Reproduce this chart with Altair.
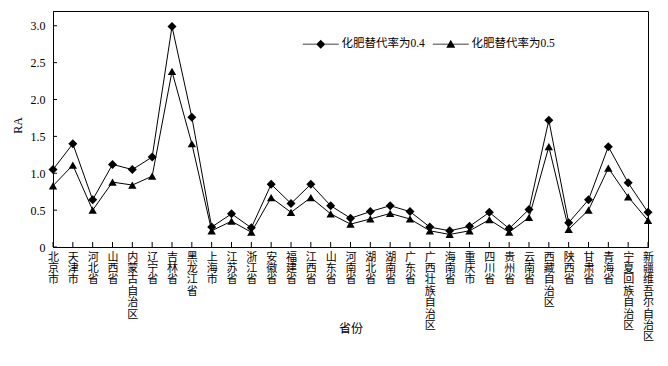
import altair as alt
import pandas as pd

provinces = ["北京市", "天津市", "河北省", "山西省", "内蒙古自治区", "辽宁省", "吉林省", "黑龙江省",
             "上海市", "江苏省", "浙江省", "安徽省", "福建省", "江西省", "山东省", "河南省",
             "湖北省", "湖南省", "广东省", "广西壮族自治区", "海南省", "重庆市", "四川省", "贵州省",
             "云南省", "西藏自治区", "陕西省", "甘肃省", "青海省", "宁夏回族自治区", "新疆维吾尔自治区"]

ra_04 = [1.05, 1.40, 0.64, 1.12, 1.05, 1.22, 2.99, 1.76,
         0.27, 0.45, 0.26, 0.85, 0.59, 0.85, 0.56, 0.39,
         0.48, 0.56, 0.48, 0.27, 0.22, 0.28, 0.47, 0.25,
         0.51, 1.72, 0.33, 0.64, 1.36, 0.87, 0.47]

ra_05 = [0.83, 1.11, 0.50, 0.88, 0.84, 0.96, 2.38, 1.40,
         0.22, 0.35, 0.20, 0.67, 0.47, 0.67, 0.45, 0.31,
         0.38, 0.455, 0.38, 0.22, 0.17, 0.22, 0.37, 0.20,
         0.40, 1.36, 0.24, 0.50, 1.07, 0.68, 0.36]

series_names = ["化肥替代率为0.4", "化肥替代率为0.5"]
y_ticks = [0, 0.5, 1.0, 1.5, 2.0, 2.5, 3.0]

rows = []
for name, vals in zip(series_names, [ra_04, ra_05]):
    for p, v in zip(provinces, vals):
        rows.append({"province": p, "series": name, "value": v})
df = pd.DataFrame(rows)
prov_df = pd.DataFrame({"province": provinces})
ytick_df = pd.DataFrame({"tick": y_ticks})

FONT = "Liberation Serif, Noto Sans CJK SC"

x_scale = alt.Scale(type="point", padding=0, domain=provinces)
y_scale = alt.Scale(domain=[0, 3.2], nice=False)

x_axis = alt.Axis(title="省份", labelAngle=0, labelAlign="center", labelBaseline="top",
                  labelExpr="split(datum.label, '')", labelLineHeight=11.4,
                  labelFontSize=11, labelPadding=4, ticks=False, grid=False,
                  labelOverlap=False,
                  domainColor="black", labelColor="black", labelFont=FONT,
                  titleFont=FONT, titleFontSize=12, titleFontWeight="normal",
                  titleColor="black", titleY=81, titleBaseline="middle")
y_axis = alt.Axis(title="RA", values=y_ticks, ticks=False, grid=False,
                  labelOverlap=False,
                  labelExpr="datum.value == 0 ? '0' : format(datum.value, '.1f')",
                  labelFontSize=12, labelPadding=8, labelFont=FONT, labelColor="black",
                  domainColor="black", titleFont=FONT, titleFontSize=12,
                  titleFontWeight="normal", titleColor="black",
                  titleX=-36, titleY=114, titleBaseline="middle")

x_enc = alt.X("province:N", scale=x_scale, sort=provinces, axis=x_axis)
y_enc = alt.Y("value:Q", scale=y_scale, axis=y_axis)

base = alt.Chart(df)

lines = base.mark_line(color="black", strokeWidth=1).encode(
    x=x_enc, y=y_enc, detail="series:N")

points = base.mark_point(filled=True, color="black", opacity=1).encode(
    x=x_enc, y=y_enc,
    shape=alt.Shape("series:N", scale=alt.Scale(domain=series_names, range=["diamond", "triangle-up"]),
                    legend=None),
    size=alt.Size("series:N", scale=alt.Scale(domain=series_names, range=[81, 70]), legend=None))

bar = "M-4,-0.11H4V0.11H-4Z"
diamond_path = bar + "M0,-1L1,0L0,1L-1,0Z"
tri_path = bar + "M0,-0.95L1,0.8L-1,0.8Z"
legend_layer = base.mark_point(filled=True, color="black", opacity=0).encode(
    x=x_enc, y=y_enc,
    shape=alt.Shape("series:N", scale=alt.Scale(domain=series_names, range=[diamond_path, tri_path]),
                    legend=alt.Legend(title=None, orient="none", legendX=262, legendY=27,
                                      direction="horizontal", symbolSize=81, symbolOpacity=1,
                                      symbolFillColor="black", symbolStrokeWidth=0,
                                      labelOffset=15, columnPadding=7,
                                      labelFont=FONT, labelFontSize=11.5, labelColor="black",
                                      padding=0)))

xticks = alt.Chart(prov_df).mark_rule(color="black", strokeWidth=1).encode(
    x=alt.X("province:N", scale=x_scale, sort=provinces, axis=x_axis),
    y=alt.value(236), y2=alt.value(231))

yticks = alt.Chart(ytick_df).mark_rule(color="black", strokeWidth=1).encode(
    y=alt.Y("tick:Q", scale=y_scale, axis=y_axis),
    x=alt.value(0), x2=alt.value(4))

chart = alt.layer(lines, points, legend_layer, xticks, yticks).resolve_scale(
    shape="independent", size="independent"
).properties(
    width=595, height=236,
    autosize=alt.AutoSizeParams(type="none"),
    padding={"left": 45, "top": 3, "right": 12, "bottom": 100},
    background="white"
).configure_view(stroke="black", strokeWidth=1)

chart.save("out.html", embed_options={"renderer": "svg", "actions": False})
